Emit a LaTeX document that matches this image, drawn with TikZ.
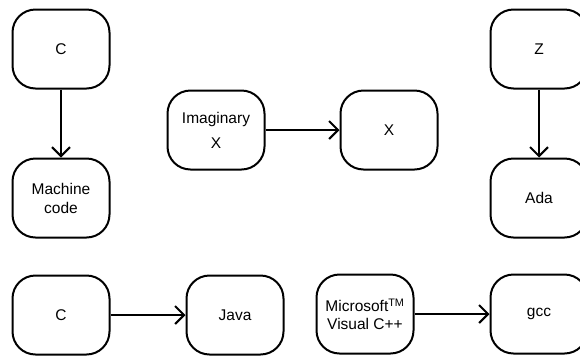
\documentclass[tikz,border=0pt]{standalone}
\usepackage{fontspec}
\setmainfont{Liberation Sans}
\usetikzlibrary{arrows.meta}

\begin{document}
\begin{tikzpicture}[x=1pt,y=-1pt]
	\tikzstyle{every node}+=[inner sep=0pt]
	\tikzstyle{lang}=[draw,line width=2pt,rounded corners=23pt,minimum width=97pt,minimum height=79pt,align=center,font=\fontsize{15.5}{19}\selectfont]
	\tikzstyle{conv}=[line width=2pt,-{Straight Barb[length=9pt,width=18pt,line width=2pt]}]
	\useasboundingbox (0,0) rectangle (580,357);
	\node [lang] (c) at (61,49) {C};
	\node [lang] (mcode) at (61,198) {Machine\\code};
	\node [lang] (imagx) at (216,130) {Imaginary\\[6pt]X};
	\node [lang] (x) at (389,130) {X};
	\node [lang] (z) at (539,49) {Z};
	\node [lang] (ada) at (539,198) {Ada};
	\node [lang] (cb) at (61,315) {C};
	\node [lang] (java) at (235,315) {Java};
	\node [lang] (msvc) at (365,314) {Microsoft\textsuperscript{TM}\\[-1pt]Visual C++};
	\node [lang] (gcc) at (539,314) {gcc};
	\draw [conv] (c) -- (mcode);
	\draw [conv] (imagx) -- (x);
	\draw [conv] (z) -- (ada);
	\draw [conv] (cb) -- (java);
	\draw [conv] (msvc) -- (gcc);
\end{tikzpicture}
\end{document}
